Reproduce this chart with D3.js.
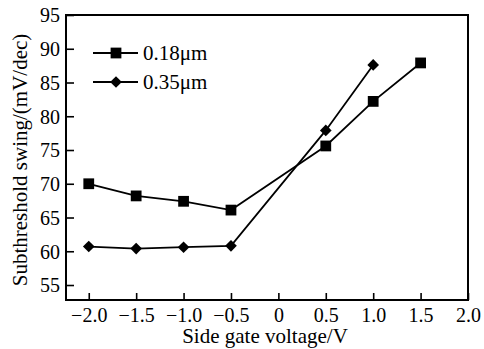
<!DOCTYPE html>
<html>
<head>
<meta charset="utf-8">
<script src="https://cdn.jsdelivr.net/npm/d3@7"></script>
<style>
  body { margin: 0; background: #fff; }
</style>
</head>
<body>
<div id="chart"></div>
<script>
'use strict'

// side gate voltage (V)
const voltages018 = [-2.0, -1.5, -1.0, -0.5, 0.5, 1.0, 1.5];
const swing018 = [70.0, 68.2, 67.4, 66.1, 75.6, 82.2, 87.9];
const voltages035 = [-2.0, -1.5, -1.0, -0.5, 0.5, 1.0];
const swing035 = [60.7, 60.4, 60.6, 60.8, 77.9, 87.6];

const xTicks = [-2.0, -1.5, -1.0, -0.5, 0, 0.5, 1.0, 1.5, 2.0];
const yTicks = [55, 60, 65, 70, 75, 80, 85, 90, 95];
const seriesNames = ['0.18\u03bcm', '0.35\u03bcm'];

const serif = 'Times New Roman, Liberation Serif, serif';

let width = 484, height = 349;
let margin = {top: 15, right: 16, bottom: 49, left: 66};

let svg = d3.select('#chart')
  .append('svg')
  .attr('width', width)
  .attr('height', height)
  .style('font-family', serif);

let x = d3.scaleLinear().domain([-2.24, 2.0]).range([margin.left, width - margin.right]),
    y = d3.scaleLinear().domain([52.78, 95]).range([height - margin.bottom, margin.top]);

let fmtX = v => v === 0 ? '0' : d3.format('.1f')(v);

// x axis, ticks inward
svg.append('g')
  .attr('transform', 'translate(0,' + (height - margin.bottom) + ')')
  .call(d3.axisBottom(x).tickValues(xTicks).tickFormat(fmtX).tickSizeInner(-7).tickSizeOuter(0))
  .call(g => g.select('.domain').remove())
  .call(g => g.selectAll('.tick line').attr('stroke', '#000').attr('stroke-width', 1.6))
  .call(g => g.selectAll('.tick text')
    .style('font-family', serif).style('font-size', '20px')
    .attr('dy', 0).attr('y', 22));

// y axis, ticks inward
svg.append('g')
  .attr('transform', 'translate(' + margin.left + ',0)')
  .call(d3.axisLeft(y).tickValues(yTicks).tickSizeInner(-8).tickSizeOuter(0))
  .call(g => g.select('.domain').remove())
  .call(g => g.selectAll('.tick line').attr('stroke', '#000').attr('stroke-width', 1.6))
  .call(g => g.selectAll('.tick text')
    .style('font-family', serif).style('font-size', '20px')
    .attr('x', -6).attr('dy', '0.34em'));

// frame
svg.append('rect')
  .attr('x', margin.left)
  .attr('y', margin.top)
  .attr('width', width - margin.left - margin.right)
  .attr('height', height - margin.top - margin.bottom)
  .attr('fill', 'none')
  .attr('stroke', '#000')
  .attr('stroke-width', 2);

let line = d3.line()
  .x(d => x(d[0]))
  .y(d => y(d[1]));

let data018 = voltages018.map((v, i) => [v, swing018[i]]),
    data035 = voltages035.map((v, i) => [v, swing035[i]]);

let square = d3.symbol().type(d3.symbolSquare).size(116),
    diamond = d3.symbol().type(d3.symbolSquare).size(68);

function drawSeries(data, shape, isDiamond) {
  svg.append('path')
    .datum(data)
    .attr('fill', 'none')
    .attr('stroke', '#000')
    .attr('stroke-width', 1.8)
    .attr('d', line);

  svg.append('g').selectAll('path')
    .data(data)
    .join('path')
    .attr('d', shape)
    .attr('transform', d => 'translate(' + x(d[0]) + ',' + y(d[1]) + ')' + (isDiamond ? ' rotate(45)' : ''))
    .attr('fill', '#000');
}

drawSeries(data018, square, false);
drawSeries(data035, diamond, true);

// legend
let legend = svg.append('g');
[0, 1].forEach(i => {
  let ly = 53 + i * 29;
  legend.append('line')
    .attr('x1', 93).attr('x2', 138)
    .attr('y1', ly).attr('y2', ly)
    .attr('stroke', '#000').attr('stroke-width', 1.8);
  legend.append('path')
    .attr('d', i === 0 ? square : diamond)
    .attr('transform', 'translate(116,' + ly + ')' + (i === 1 ? ' rotate(45)' : ''))
    .attr('fill', '#000');
  legend.append('text')
    .attr('x', 143)
    .attr('y', ly)
    .attr('dy', '0.35em')
    .style('font-size', '21px')
    .text(seriesNames[i]);
});

// axis titles
svg.append('text')
  .attr('x', 265)
  .attr('y', 343)
  .attr('text-anchor', 'middle')
  .style('font-size', '21px')
  .text('Side gate voltage/V');

svg.append('text')
  .attr('transform', 'translate(27,160) rotate(-90)')
  .attr('text-anchor', 'middle')
  .style('font-size', '21px')
  .text('Subthreshold swing/(mV/dec)');
</script>
</body>
</html>
